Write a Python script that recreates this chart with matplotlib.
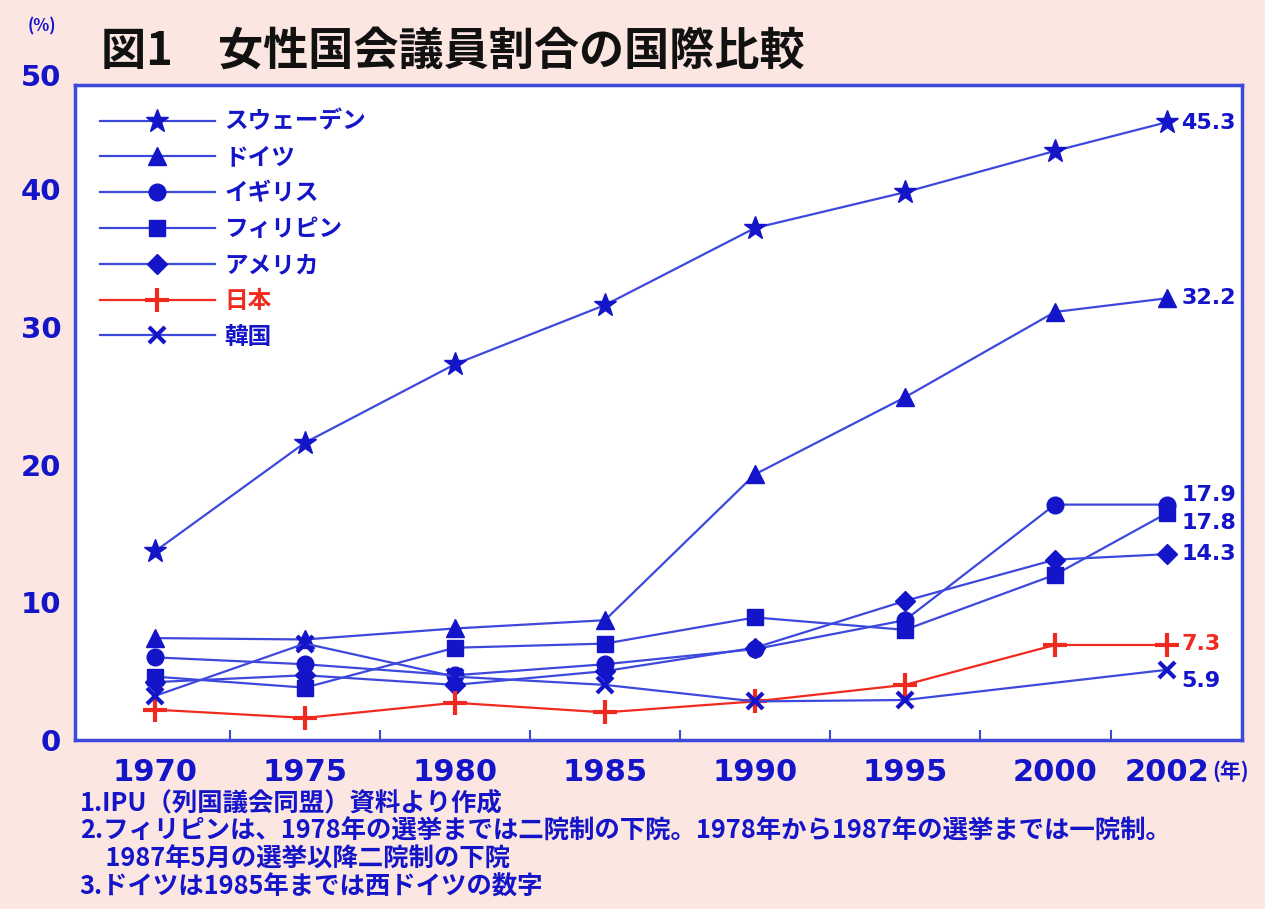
import numpy as np
import matplotlib.pyplot as plt

plt.rcParams['font.family'] = ['Noto Sans CJK JP', 'DejaVu Sans']

# データ
years = ['1970', '1975', '1980', '1985', '1990', '1995', '2000', '2002']
xpos = [0, 1, 2, 3, 4, 5, 6, 6.75]

sweden = [13.7, 21.6, 27.3, 31.6, 37.2, 39.8, 42.8, 44.9]
germany = [7.4, 7.3, 8.1, 8.7, 19.3, 24.9, 31.1, 32.1]
uk = [6.0, 5.5, 4.7, 5.5, 6.6, 8.7, 17.1, 17.1]
philippines = [4.6, 3.8, 6.7, 7.0, 8.9, 8.0, 12.0, 16.5]
usa = [4.2, 4.7, 4.0, 5.0, 6.7, 10.1, 13.1, 13.5]
japan = [2.2, 1.6, 2.7, 2.0, 2.8, 4.0, 6.9, 6.9]
korea = [3.2, 7.0, 4.6, 4.0, 2.8, 2.9, np.nan, 5.1]

names = ['スウェーデン', 'ドイツ', 'イギリス', 'フィリピン', 'アメリカ', '日本', '韓国']
end_labels = ['45.3', '32.2', '17.9', '17.8', '14.3', '7.3', '5.9']

notes = ['1.IPU（列国議会同盟）資料より作成',
         '2.フィリピンは、1978年の選挙までは二院制の下院。1978年から1987年の選挙までは一院制。',
         '　1987年5月の選挙以降二院制の下院',
         '3.ドイツは1985年までは西ドイツの数字']

blue = '#3d48dc'
dark = '#1414c8'
red = '#f02a1e'
pink = '#fce6e1'

series = [sweden, germany, uk, philippines, usa, japan, korea]
markers = ['*', '^', 'o', 's', 'D', '+', 'x']
msizes = [17, 13, 12, 11, 10, 17, 11]
colors = [blue, blue, blue, blue, blue, red, blue]
mcolors = [dark, dark, dark, dark, dark, red, dark]
label_off = [-1, 0, 7, -7, 0, 1, -8]   # points, up is positive

fig = plt.figure(figsize=(12.65, 9.09), dpi=100, facecolor=pink)
ax = fig.add_axes([0.0593, 0.186, 0.9225, 0.7206])
ax.set_facecolor('white')

x = np.array(xpos)
for vals, nm, mk, ms, c, mc in zip(series, names, markers, msizes, colors, mcolors):
    v = np.array(vals)
    ok = ~np.isnan(v)
    ax.plot(x[ok], v[ok], color=c, lw=1.6, marker=mk, ms=ms, mfc=mc, mec=mc,
            mew=3 if mk in '+x' else 1, label=nm)

for vals, lab, off, c in zip(series, end_labels, label_off, mcolors):
    ax.annotate(lab, (x[-1], vals[-1]), xytext=(10, off), textcoords='offset points',
                ha='left', va='center', color=c, fontsize=16, fontweight='bold',
                family='DejaVu Sans')

ax.set_xlim(-0.533, 7.247)
ax.set_ylim(0, 47.6)
ax.set_xticks(x)
ax.set_xticklabels(years)
ax.set_xticks((x[:-1] + x[1:]) / 2, minor=True)
ax.set_yticks([0, 10, 20, 30, 40])
ax.tick_params(axis='x', which='major', length=0, pad=13, labelsize=22, labelcolor=dark)
ax.tick_params(axis='x', which='minor', direction='in', length=7, width=1.5, color=blue)
ax.tick_params(axis='y', length=0, pad=10, labelsize=21, labelcolor=dark)
for t in ax.get_xticklabels() + ax.get_yticklabels():
    t.set_fontweight('bold')
    t.set_family('DejaVu Sans')
for s in ax.spines.values():
    s.set_color(blue)
    s.set_linewidth(2.5)

ax.text(-0.012, 1.01, '50', transform=ax.transAxes, ha='right', va='center',
        fontsize=21, fontweight='bold', color=dark, family='DejaVu Sans')
fig.text(0.022, 0.965, '(%)', fontsize=12, fontweight='bold', color=dark)
fig.text(0.958, 0.143, '(年)', fontsize=15, fontweight='bold', color=dark)
fig.text(0.080, 0.943, '図1　女性国会議員割合の国際比較', fontsize=32.5,
         fontweight='bold', color='#111111', va='center')

leg = ax.legend(loc='upper left', bbox_to_anchor=(0.021, 0.962), frameon=False,
                fontsize=17, handlelength=4.9, labelspacing=0.5, borderpad=0,
                borderaxespad=0, handletextpad=0.4)
for t, c in zip(leg.get_texts(), mcolors):
    t.set_color(c)
    t.set_fontweight('bold')

for i, n in enumerate(notes):
    fig.text(0.063, 0.117 - i * 0.031, n, fontsize=18.3, fontweight='bold',
             color=dark, va='center')

fig.savefig('out.png', dpi=100, facecolor=pink)
